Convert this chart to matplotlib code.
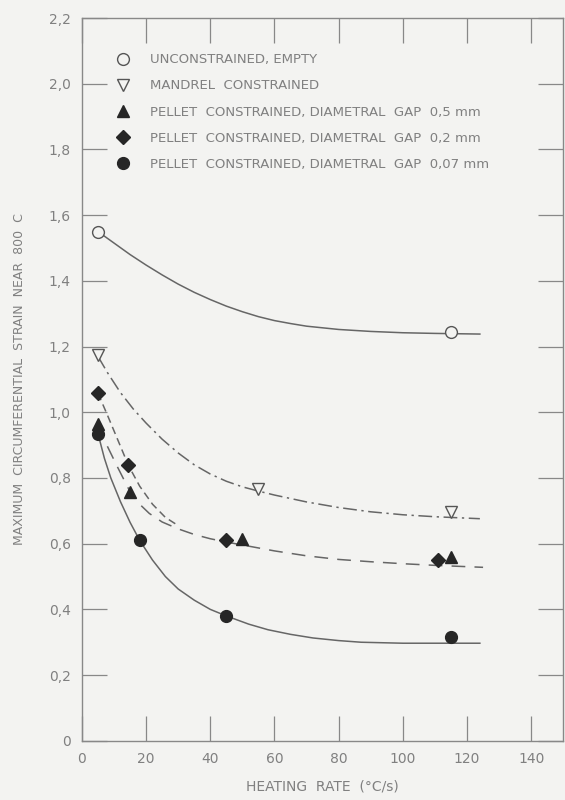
import matplotlib
matplotlib.use("Agg")
import matplotlib.pyplot as plt
from matplotlib.ticker import FuncFormatter

# Measured points (heating rate in °C/s, max circumferential strain)
unc_x = [5, 115]
unc_y = [1.55, 1.245]
man_x = [5, 55, 115]
man_y = [1.175, 0.765, 0.695]
gap05_x = [5, 15, 50, 115]
gap05_y = [0.965, 0.757, 0.615, 0.56]
gap02_x = [5, 14.5, 45, 111]
gap02_y = [1.058, 0.838, 0.61, 0.55]
gap007_x = [5, 18, 45, 115]
gap007_y = [0.935, 0.61, 0.38, 0.315]

# Hand-fitted trend curves
unc_cx = [5, 10, 15, 20, 25, 30, 35, 40, 45, 50, 55, 60, 65, 70, 80, 90, 100, 110, 124]
unc_cy = [1.55, 1.515, 1.48, 1.448, 1.418, 1.39, 1.365, 1.343, 1.323, 1.306, 1.291,
          1.279, 1.27, 1.262, 1.252, 1.246, 1.242, 1.240, 1.238]
man_cx = [5, 8, 12, 16, 20, 25, 30, 35, 40, 45, 50, 55, 60, 70, 80, 90, 100, 110, 124]
man_cy = [1.17, 1.12, 1.06, 1.01, 0.967, 0.918, 0.876, 0.84, 0.812, 0.79, 0.773,
          0.76, 0.748, 0.727, 0.71, 0.697, 0.688, 0.682, 0.676]
mid_cx = [5, 8, 11, 15, 18, 21, 25, 30, 35, 40, 45, 50, 60, 70, 80, 90, 100, 110, 125]
mid_cy = [0.96, 0.895, 0.835, 0.758, 0.72, 0.692, 0.666, 0.645, 0.628, 0.615, 0.605,
          0.596, 0.578, 0.563, 0.552, 0.545, 0.539, 0.534, 0.528]
br02_cx = [5, 8, 11, 14.5, 18, 22, 26, 30]
br02_cy = [1.058, 0.99, 0.92, 0.838, 0.775, 0.72, 0.68, 0.655]
low_cx = [5, 7, 9, 12, 15, 18, 22, 26, 30, 35, 40, 45, 52, 58, 65, 72, 80, 87, 100, 124]
low_cy = [0.935, 0.86, 0.80, 0.728, 0.665, 0.61, 0.55, 0.50, 0.462, 0.428, 0.40, 0.38,
          0.355, 0.338, 0.324, 0.313, 0.305, 0.300, 0.297, 0.297]

x_ticks = [0, 20, 40, 60, 80, 100, 120, 140]
y_ticks = [0, 0.2, 0.4, 0.6, 0.8, 1.0, 1.2, 1.4, 1.6, 1.8, 2.0, 2.2]

labels = [
    "UNCONSTRAINED, EMPTY",
    "MANDREL  CONSTRAINED",
    "PELLET  CONSTRAINED, DIAMETRAL  GAP  0,5 mm",
    "PELLET  CONSTRAINED, DIAMETRAL  GAP  0,2 mm",
    "PELLET  CONSTRAINED, DIAMETRAL  GAP  0,07 mm",
]

bg = "#f3f3f1"
ink = "#808080"
line_c = "#666666"
dark = "#262626"

fig = plt.figure(figsize=(5.65, 8.0), dpi=100, facecolor=bg)
ax = fig.add_axes([0.145, 0.074, 0.852, 0.9035], facecolor=bg)

# trend curves
ax.plot(unc_cx, unc_cy, color=line_c, lw=1.1)
ax.plot(man_cx, man_cy, color=line_c, lw=1.1, linestyle=(0, (9, 3, 1.5, 3)))
ax.plot(mid_cx, mid_cy, color=line_c, lw=1.1, linestyle=(0, (9, 6)))
ax.plot(br02_cx, br02_cy, color=line_c, lw=1.1, linestyle=(0, (5, 3)))
ax.plot(low_cx, low_cy, color=line_c, lw=1.1)

# measured points
h1, = ax.plot(unc_x, unc_y, "o", ms=8.5, mfc=bg, mec="#555555", mew=1.0, linestyle="none")
h2, = ax.plot(man_x, man_y, "v", ms=8.5, mfc=bg, mec="#555555", mew=1.0, linestyle="none")
h3, = ax.plot(gap05_x, gap05_y, "^", ms=8, color=dark, linestyle="none")
h4, = ax.plot(gap02_x, gap02_y, "D", ms=7.5, color=dark, linestyle="none")
h5, = ax.plot(gap007_x, gap007_y, "o", ms=8.5, color=dark, linestyle="none")

leg = ax.legend([h1, h2, h3, h4, h5], labels, loc="upper left",
                bbox_to_anchor=(0.067, 0.955), frameon=False,
                handlelength=1.0, handletextpad=1.55, labelspacing=1.0,
                borderpad=0.2, borderaxespad=0.0,
                prop={"size": 9.5, "family": "DejaVu Sans"})
for t in leg.get_texts():
    t.set_color(ink)

ax.set_xlim(0, 150)
ax.set_ylim(0, 2.2)
ax.set_xticks(x_ticks)
ax.set_yticks(y_ticks)


def comma_fmt(v, pos):
    if abs(v) < 1e-9:
        return "0"
    return f"{v:.1f}".replace(".", ",")


ax.yaxis.set_major_formatter(FuncFormatter(comma_fmt))
ax.xaxis.set_major_formatter(FuncFormatter(lambda v, p: f"{v:.0f}"))

ax.tick_params(direction="in", length=18, width=0.9, color="#888888",
               labelcolor=ink, labelsize=10, top=True, right=True, pad=8)
for s in ax.spines.values():
    s.set_color("#888888")
    s.set_linewidth(1.0)

ax.set_xlabel("HEATING  RATE  (°C/s)", color=ink, fontsize=10, labelpad=10)
ax.set_ylabel("MAXIMUM  CIRCUMFERENTIAL  STRAIN  NEAR  800  C", color=ink,
              fontsize=9, labelpad=16)

fig.savefig("out.png", dpi=100, facecolor=bg)
